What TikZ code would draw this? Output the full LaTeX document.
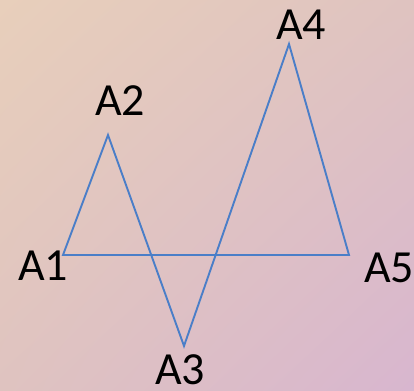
\documentclass[tikz,border=0pt]{standalone}
\usepackage{fontspec}
\setmainfont{Carlito}
\usetikzlibrary{positioning, shadings}
\definecolor{lineblue}{HTML}{4A7EC8}
\definecolor{bgpeach}{HTML}{E8CFBB}
\definecolor{bglilac}{HTML}{D8B6CF}
\definecolor{bgmid}{HTML}{DFC3C0}

\begin{document}
\begin{tikzpicture}[
    x=1pt, y=-1pt,
    lbl/.style={font=\fontsize{46}{46}\selectfont, text=black, inner sep=0pt},
    edge/.style={draw=lineblue, line width=1.9pt, line join=miter}
]
\shade[upper left=bgpeach, upper right=bgmid, lower left=bgmid, lower right=bglilac]
    (0,0) rectangle (414,390);
\useasboundingbox (0,0) rectangle (414,390);

\coordinate (p1) at (63,255);
\coordinate (p2) at (108,135);
\coordinate (p3) at (184,346);
\coordinate (p4) at (289,44);
\coordinate (p5) at (349,255);

\node[lbl] (a1) at (43,266) {A1};
\node[lbl] (a2) at (120,101) {A2};
\node[lbl] (a3) at (180,370) {A3};
\node[lbl] (a4) at (301,25) {A4};
\node[lbl] (a5) at (389,268) {A5};

\draw[edge] (p1) -- (p2) -- (p3) -- (p4) -- (p5) -- cycle;
\end{tikzpicture}
\end{document}
